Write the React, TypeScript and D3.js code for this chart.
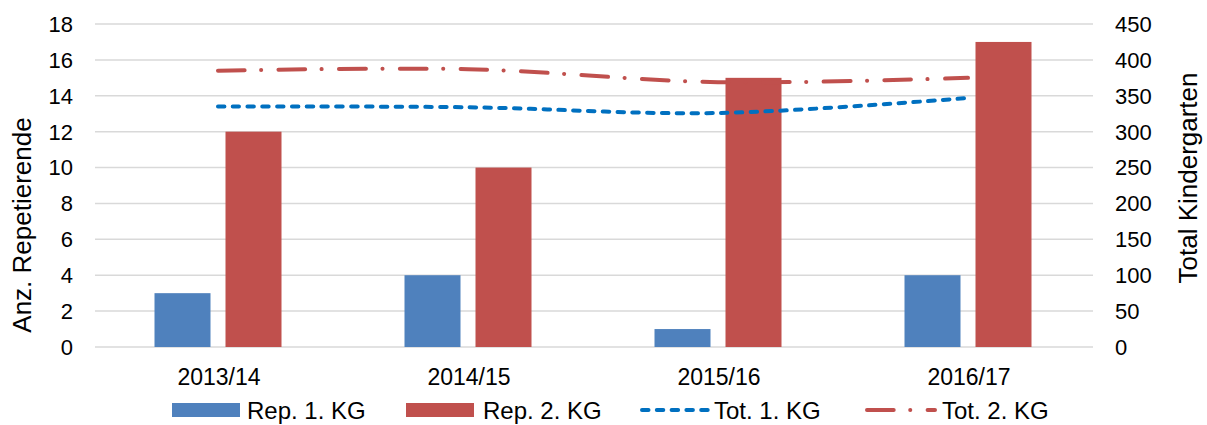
import React, { useEffect, useRef } from 'react';
import * as d3 from 'd3';

const categories = ['2013/14', '2014/15', '2015/16', '2016/17'];
const rep1 = [3, 4, 1, 4];
const rep2 = [12, 10, 15, 17];
const tot1 = [335, 334, 326, 347];
const tot2 = [385, 387, 369, 375];
const leftTicks = [0, 2, 4, 6, 8, 10, 12, 14, 16, 18];
const rightTicks = [0, 50, 100, 150, 200, 250, 300, 350, 400, 450];

const W = 1207, H = 425;
const FONT = '"Liberation Sans", Arial, sans-serif';
const DASH1 = '6.5 8.3';
const DASH2 = '26.7 16.5 0.1 17.3';

export default function App() {
    const ref = useRef<SVGSVGElement>(null);

    useEffect(() => {
        const svg = d3.select(ref.current);
        svg.selectAll('*').remove();

        const plot = { left: 93, right: 1093, top: 24, bottom: 347 };

        const x = d3.scaleBand().domain(categories).range([plot.left, plot.right]);
        const yL = d3.scaleLinear().domain([0, 18]).range([plot.bottom, plot.top]);
        const yR = d3.scaleLinear().domain([0, 450]).range([plot.bottom, plot.top]);

        // gridlines
        svg.append('g').selectAll('line')
            .data(leftTicks)
            .enter().append('line')
            .attr('x1', plot.left + 2)
            .attr('x2', plot.right)
            .attr('y1', d => yL(d))
            .attr('y2', d => yL(d))
            .attr('stroke', '#d9d9d9')
            .attr('stroke-width', 1.5);

        // left ticks
        svg.append('g').selectAll('text')
            .data(leftTicks)
            .enter().append('text')
            .attr('x', 73)
            .attr('y', d => yL(d))
            .attr('dy', '0.36em')
            .attr('text-anchor', 'end')
            .attr('font-family', FONT)
            .attr('font-size', 22)
            .attr('fill', '#000')
            .text(d => d);

        // right ticks
        svg.append('g').selectAll('text')
            .data(rightTicks)
            .enter().append('text')
            .attr('x', 1115)
            .attr('y', d => yR(d))
            .attr('dy', '0.36em')
            .attr('text-anchor', 'start')
            .attr('font-family', FONT)
            .attr('font-size', 22)
            .attr('fill', '#000')
            .text(d => d);

        // axis titles
        svg.append('text')
            .attr('transform', 'translate(31,225) rotate(-90)')
            .attr('text-anchor', 'middle')
            .attr('font-family', FONT)
            .attr('font-size', 26)
            .text('Anz. Repetierende');

        svg.append('text')
            .attr('transform', 'translate(1197,178) rotate(-90)')
            .attr('text-anchor', 'middle')
            .attr('font-family', FONT)
            .attr('font-size', 26)
            .text('Total Kindergarten');

        // category labels
        svg.append('g').selectAll('text')
            .data(categories)
            .enter().append('text')
            .attr('x', d => x(d)! + x.bandwidth() / 2 + 1)
            .attr('y', 385)
            .attr('text-anchor', 'middle')
            .attr('font-family', FONT)
            .attr('font-size', 23)
            .text(d => d);

        // bars
        const barW = 56, gap = 15;
        const bars = svg.append('g');
        bars.selectAll('.rep1')
            .data(rep1)
            .enter().append('rect')
            .attr('class', 'rep1')
            .attr('x', (d, i) => x(categories[i])! + x.bandwidth() / 2 - gap / 2 - barW)
            .attr('y', d => yL(d))
            .attr('width', barW)
            .attr('height', d => yL(0) - yL(d))
            .attr('fill', '#4f81bd');
        bars.selectAll('.rep2')
            .data(rep2)
            .enter().append('rect')
            .attr('class', 'rep2')
            .attr('x', (d, i) => x(categories[i])! + x.bandwidth() / 2 + gap / 2)
            .attr('y', d => yL(d))
            .attr('width', barW)
            .attr('height', d => yL(0) - yL(d))
            .attr('fill', '#c0504d');

        // lines (smoothed, right axis)
        const line = d3.line<number>()
            .x((d, i) => x(categories[i])! + x.bandwidth() / 2)
            .y(d => yR(d))
            .curve(d3.curveCatmullRom.alpha(0.5));

        svg.append('path')
            .datum(tot1)
            .attr('d', line)
            .attr('fill', 'none')
            .attr('stroke', '#0070c0')
            .attr('stroke-width', 4)
            .attr('stroke-linecap', 'round')
            .attr('stroke-dasharray', DASH1);

        svg.append('path')
            .datum(tot2)
            .attr('d', line)
            .attr('fill', 'none')
            .attr('stroke', '#c0504d')
            .attr('stroke-width', 4)
            .attr('stroke-linecap', 'round')
            .attr('stroke-dasharray', DASH2);

        // legend
        const legend = svg.append('g').attr('font-family', FONT).attr('font-size', 24);
        const ly = 410;
        legend.append('rect').attr('x', 172).attr('y', ly - 7).attr('width', 68).attr('height', 14).attr('fill', '#4f81bd');
        legend.append('text').attr('x', 247).attr('y', ly).attr('dy', '0.36em').text('Rep. 1. KG');
        legend.append('rect').attr('x', 406).attr('y', ly - 7).attr('width', 68).attr('height', 14).attr('fill', '#c0504d');
        legend.append('text').attr('x', 483).attr('y', ly).attr('dy', '0.36em').text('Rep. 2. KG');
        legend.append('line').attr('x1', 642).attr('x2', 708).attr('y1', ly).attr('y2', ly)
            .attr('stroke', '#0070c0').attr('stroke-width', 4).attr('stroke-linecap', 'round')
            .attr('stroke-dasharray', DASH1);
        legend.append('line').attr('x1', 867).attr('x2', 935).attr('y1', ly).attr('y2', ly)
            .attr('stroke', '#c0504d').attr('stroke-width', 4).attr('stroke-linecap', 'round')
            .attr('stroke-dasharray', DASH2);
        legend.append('text').attr('x', 714).attr('y', ly).attr('dy', '0.36em').text('Tot. 1. KG');
        legend.append('text').attr('x', 942).attr('y', ly).attr('dy', '0.36em').text('Tot. 2. KG');
    }, []);

    return (
        <svg ref={ref} width={W} height={H}
            style={{ position: 'absolute', left: 0, top: 0, background: '#fff' }} />
    );
}
